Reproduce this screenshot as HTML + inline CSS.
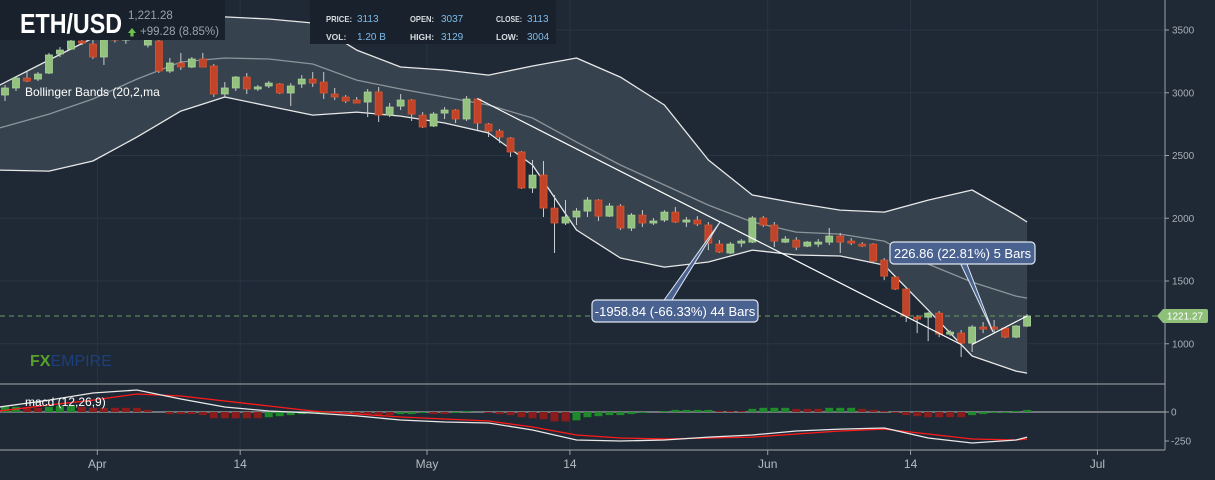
<!DOCTYPE html>
<html><head><meta charset="utf-8">
<style>
html,body{margin:0;padding:0;background:#1e2935;width:1215px;height:480px;overflow:hidden;}
svg{display:block;font-family:"Liberation Sans",sans-serif;}
</style></head>
<body>
<svg id="chart" width="1215" height="480" viewBox="0 0 1215 480">
  <rect x="0" y="0" width="1215" height="480" fill="#1e2935"/>
  <g id="grid"></g>
  <g id="bands"></g>
  <g id="candles"></g>
  <g id="annot"></g>
  <g id="macd"></g>
  <g id="axes"></g>
  <g id="header">
    <rect x="0" y="0" width="225" height="40" fill="#19222c"/>
    <text x="20" y="33" font-size="28" font-weight="bold" fill="#ffffff" textLength="102" lengthAdjust="spacingAndGlyphs">ETH/USD</text>
    <text x="128" y="19" font-size="11.5" fill="#9aa3ad">1,221.28</text>
    <path d="M128,33 l4,-5 l4,5 h-2.4 v3.5 h-3.2 v-3.5 z" fill="#6cc24a"/>
    <text x="140" y="35" font-size="11.5" fill="#9aa3ad">+99.28 (8.85%)</text>
    <rect x="310" y="0" width="246" height="44" fill="#19222c"/>
    <g font-size="8.5" font-weight="bold" fill="#d8dde2">
      <text x="326" y="22" textLength="26" lengthAdjust="spacingAndGlyphs">PRICE:</text>
      <text x="410" y="22" textLength="24" lengthAdjust="spacingAndGlyphs">OPEN:</text>
      <text x="496" y="22" textLength="26" lengthAdjust="spacingAndGlyphs">CLOSE:</text>
      <text x="326" y="40">VOL:</text>
      <text x="410" y="40">HIGH:</text>
      <text x="496" y="40">LOW:</text>
    </g>
    <g font-size="10" fill="#7fbbe8">
      <text x="357" y="22">3113</text>
      <text x="441" y="22">3037</text>
      <text x="527" y="22">3113</text>
      <text x="357" y="40">1.20 B</text>
      <text x="441" y="40">3129</text>
      <text x="527" y="40">3004</text>
    </g>
  </g>
  <text x="25" y="96" font-size="12" fill="#ffffff">Bollinger Bands (20,2,ma</text>
  <text x="30" y="366" font-size="16" font-weight="bold"><tspan fill="#5aa02c">FX</tspan><tspan fill="#1d3f7a" font-weight="normal">EMPIRE</tspan></text>
  <text x="25" y="406" font-size="12" fill="#ffffff">macd (12,26,9)</text>
</svg>
<script>
const NS='http://www.w3.org/2000/svg';
// ---- data ----
const opens =[2982,3038,3117,3109,3157,3309,3348,3412,3388,3285,3444,3420,3500,3380,3412,3173,3237,3205,3269,3213,2990,3038,3125,3030,3054,3070,2998,3070,3109,3085,2990,2966,2942,2926,3006,2822,2894,2942,2822,2735,2838,2862,2791,2950,2751,2695,2639,2528,2241,2344,2081,1962,2010,2057,2145,2017,2097,1922,2025,1962,1986,2049,1970,1986,1946,1794,1723,1802,1810,2002,1946,1810,1826,1778,1794,1810,1858,1818,1794,1794,1667,1531,1436,1212,1212,1244,1077,1085,1005,1133,1133,1125,1053,1141];
const highs =[3062,3125,3165,3165,3317,3364,3436,3436,3420,3480,3520,3540,3560,3480,3440,3277,3317,3285,3317,3229,3085,3133,3157,3062,3093,3077,3077,3141,3165,3165,3038,2982,2966,3030,3046,2918,2990,2950,2846,2846,2886,2870,2974,2958,2759,2711,2647,2536,2464,2456,2185,2145,2081,2169,2153,2121,2113,2041,2065,2002,2065,2089,2010,2017,1970,1826,1810,1834,2017,2017,1970,1858,1850,1818,1834,1922,1882,1842,1810,1802,1683,1539,1452,1228,1252,1260,1109,1109,1149,1173,1189,1133,1149,1236];
const lows  =[2934,3014,3085,3093,3149,3285,3340,3380,3269,3221,3400,3390,3440,3360,3157,3157,3181,3197,3205,2966,2958,3014,2990,3014,3038,2990,2894,3038,3046,2950,2942,2918,2918,2806,2767,2806,2862,2775,2719,2727,2791,2759,2775,2703,2647,2599,2488,2233,2201,2010,1723,1946,1946,2010,1978,2010,1906,1898,1930,1946,1970,1962,1930,1938,1746,1723,1715,1770,1802,1930,1770,1802,1746,1770,1770,1786,1723,1786,1770,1651,1507,1428,1173,1085,1021,1053,1061,894,934,1085,1085,1045,1045,1133];
const closes=[3038,3117,3093,3149,3301,3340,3412,3396,3285,3444,3420,3500,3460,3420,3173,3237,3205,3269,3205,2990,3038,3125,3030,3046,3077,2998,3054,3109,3077,2998,2966,2934,2918,3006,2822,2886,2942,2830,2727,2830,2862,2791,2950,2759,2695,2647,2528,2241,2344,2081,1962,2010,2057,2145,2017,2097,1922,2025,1962,1978,2049,1970,1986,1954,1802,1731,1794,1818,2002,1946,1818,1834,1770,1810,1810,1858,1810,1802,1778,1659,1539,1436,1220,1197,1244,1077,1093,1005,1133,1117,1117,1053,1141,1221];
// Bollinger band samples (candle index -> value)
const bandIdx   =[-0.5,4,8,12,16,20,24,28,32,36,40,44,48,52,56,60,64,68,72,76,80,84,88,92,93];
const bandUpper =[3060,3261,3436,3540,3596,3604,3588,3556,3340,3205,3181,3141,3213,3277,3125,2902,2464,2185,2121,2065,2049,2145,2225,2025,1970];
const bandMid   =[2719,2830,2950,3109,3245,3277,3269,3229,3101,3030,2966,2902,2799,2607,2424,2265,2105,1970,1890,1874,1818,1635,1491,1380,1364];
const bandLower =[2384,2376,2456,2647,2854,2966,2894,2822,2846,2814,2759,2679,2424,1906,1683,1611,1651,1746,1707,1699,1627,1268,902,782,766];
// MACD
const macdLine  =[43,103,164,190,112,43,9,-9,-34,-69,-86,-95,-155,-241,-250,-241,-216,-198,-164,-147,-138,-224,-267,-241,-216];
const signalLine=[9,60,103,155,138,95,52,9,-17,-43,-60,-78,-129,-198,-224,-233,-224,-216,-190,-164,-147,-190,-233,-241,-233];
const histVals  =[45,45,36,36,45,54,54,45,36,36,36,36,36,18,0,-18,-18,-18,-27,-54,-54,-54,-54,-54,-45,-36,-27,-18,-9,-9,0,-9,-18,-18,-27,-27,-18,-18,-9,-18,-18,-9,9,0,-9,-18,-27,-45,-54,-63,-81,-81,-72,-45,-36,-27,-27,-18,-9,0,9,18,18,18,18,9,9,9,27,36,36,36,27,27,27,36,36,36,27,18,9,-9,-27,-36,-45,-45,-45,-45,-27,-18,-9,-9,9,18];
// axes
const priceTicks=[3500,3000,2500,2000,1500,1000];
const macdTicks=[0,-250];
const dateLabels=['Apr','14','May','14','Jun','14','Jul'];
const dateIdx=[8.4,21.4,38.4,51.4,69.4,82.4,99.4];
const lastPrice=1221.27;
// measurement annotations [startIdx, startVal, endIdx, endVal]
const measure1=[43,2953,87,994];
const measure2=[88,994,93,1221];

// ---- scales ----
const X=i=>5+10.99*i;
const Y=v=>30+(3500-v)*0.1255;
const MY=v=>412-v*29/250;
const RIGHT=1165;
function el(tag,attrs,parent){const e=document.createElementNS(NS,tag);for(const k in attrs)e.setAttribute(k,attrs[k]);parent.appendChild(e);return e;}
const g=id=>document.getElementById(id);

// grid
priceTicks.forEach(t=>{const l=el('line',{x1:0,x2:RIGHT,y1:Y(t),y2:Y(t),stroke:'#283542','stroke-width':1},g('grid'));

});
dateIdx.forEach(d=>{const l=el('line',{x1:X(d),x2:X(d),y1:0,y2:450,stroke:'#283542','stroke-width':1},g('grid'));

});

// bands
const pts=arr=>bandIdx.map((b,k)=>X(b).toFixed(1)+','+Y(arr[k]).toFixed(1));
const area=el('polygon',{points:pts(bandUpper).concat(pts(bandLower).reverse()).join(' '),fill:'#36424d'},g('bands'));


[[bandUpper,'#e8e8e8','band-upper'],[bandMid,'#8c949b','band-middle'],[bandLower,'#e8e8e8','band-lower']].forEach(([a,c,n])=>{
  const p=el('polyline',{points:pts(a).join(' '),fill:'none',stroke:c,'stroke-width':1.3,'stroke-linejoin':'round'},g('bands'));
  
  
});

// last price dashed line
const dl=el('line',{x1:0,x2:1160,y1:Y(lastPrice),y2:Y(lastPrice),stroke:'#6f9a62','stroke-width':1,'stroke-dasharray':'5,4'},g('bands'));



// candles
opens.forEach((o,i)=>{
  const c=closes[i],up=c>=o,x=X(i);
  const w=el('line',{x1:x,x2:x,y1:Y(highs[i]),y2:Y(lows[i]),stroke:'#c9ccce','stroke-width':1},g('candles'));
  
  
  const top=Y(Math.max(o,c)),bot=Y(Math.min(o,c));
  const r=el('rect',{x:x-3.5,y:top,width:7,height:Math.max(1.5,bot-top),fill:up?'#93c27f':'#c1442a',stroke:up?'#a8d196':'#d9552f','stroke-width':0.8},g('candles'));
  
  
});

// annotations
function measure(m,label,bx,by,bw,px,py,name){
  const a=g('annot');
  const l=el('line',{x1:X(m[0]),y1:Y(m[1]),x2:X(m[2]),y2:Y(m[3]),stroke:'#ffffff','stroke-width':1.2},a);
  
  
  const ptr=el('polygon',{points:`${px},${py} ${bx+bw*0.45-4},${by+2} ${bx+bw*0.45+4},${by+2}`,fill:'#4a6290',stroke:'#dfe6f0','stroke-width':1},a);
  
  
  const r=el('rect',{x:bx,y:by,width:bw,height:22,rx:4,fill:'#4a6290',stroke:'#dfe6f0','stroke-width':1.2},a);
  
  
  const t=el('text',{x:bx+bw/2,y:by+16,'font-size':13,fill:'#ffffff','text-anchor':'middle'},a);
  t.textContent=label;
  
  
}
measure(measure1,'-1958.84 (-66.33%) 44 Bars',592,300,166,720,222,'measure-down');
measure(measure2,'226.86 (22.81%) 5 Bars',890,242,145,993,332,'measure-up');

// MACD panel
const mg=g('macd');
[[384,'#8a8f94'],[450,'#8a8f94'],[412,'#8a8f94']].forEach(([y,c],k)=>{
  const l=el('line',{x1:0,x2:RIGHT,y1:y,y2:y,stroke:c,'stroke-width':k==2?1.5:1.2},mg);
  
  
});
let prevColor='#1e8a2a';
histVals.forEach((h,i)=>{
  let col=prevColor;
  if(i>0){if(h>histVals[i-1])col='#1e8a2a';else if(h<histVals[i-1])col='#8a1c1c';}
  prevColor=col;
  if(h===0)return;
  const y0=MY(0),y1=MY(h);
  const r=el('rect',{x:X(i)-4,y:Math.min(y0,y1),width:8,height:Math.abs(y1-y0),fill:col},mg);
  
  
});
const mp=arr=>bandIdx.map((b,k)=>X(b).toFixed(1)+','+MY(arr[k]).toFixed(1)).join(' ');
const sl=el('polyline',{points:mp(signalLine),fill:'none',stroke:'#ff1a1a','stroke-width':1.3},mg);


const ml=el('polyline',{points:mp(macdLine),fill:'none',stroke:'#e8e8e8','stroke-width':1.3},mg);



// axes
const ax=g('axes');
const al=el('line',{x1:RIGHT,x2:RIGHT,y1:0,y2:450,stroke:'#9aa0a6','stroke-width':1},ax);


priceTicks.forEach(t=>{
  const tk=el('line',{x1:RIGHT,x2:RIGHT+4,y1:Y(t),y2:Y(t),stroke:'#9aa0a6'},ax);
  
  
  const tx=el('text',{x:RIGHT+7,y:Y(t)+3.5,'font-size':10,fill:'#a9afb5'},ax);
  tx.textContent=t;
  
  
});
macdTicks.forEach(t=>{
  const tk=el('line',{x1:RIGHT,x2:RIGHT+4,y1:MY(t),y2:MY(t),stroke:'#9aa0a6'},ax);
  
  
  const tx=el('text',{x:RIGHT+6,y:MY(t)+3.5,'font-size':10,fill:'#a9afb5'},ax);
  tx.textContent=t;
  
  
});
dateIdx.forEach((d,k)=>{
  const tk=el('line',{x1:X(d),x2:X(d),y1:450,y2:455,stroke:'#9aa0a6'},ax);
  
  
  const tx=el('text',{x:X(d),y:468,'font-size':12,fill:'#b5bbc1','text-anchor':'middle'},ax);
  tx.textContent=dateLabels[k];
  
  
});
// price tag
const ty=Y(lastPrice);
const tag=el('path',{d:`M1157,${ty} l6,-7 h43 a2,2 0 0 1 2,2 v10 a2,2 0 0 1 -2,2 h-43 z`,fill:'#8fc07a'},ax);


const tt=el('text',{x:1185,y:ty+3.5,'font-size':10,fill:'#ffffff','text-anchor':'middle'},ax);
tt.textContent=lastPrice.toFixed(2);


</script>
</body></html>
